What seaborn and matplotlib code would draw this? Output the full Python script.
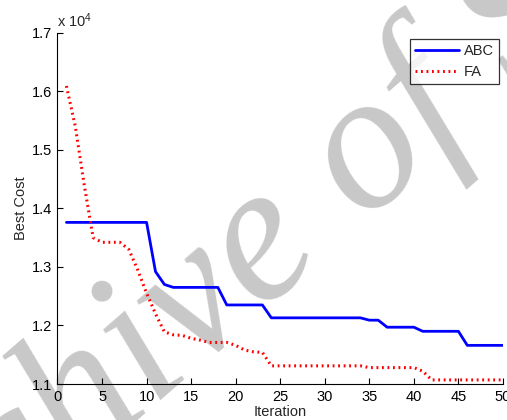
import matplotlib
matplotlib.use("Agg")
import matplotlib.pyplot as plt
import pandas as pd
import seaborn as sns
from matplotlib.ticker import FuncFormatter

# best cost per iteration
iterations = list(range(1, 51))
abc_cost = [13760, 13760, 13760, 13760, 13760, 13760, 13760, 13760, 13760, 13760,
            12920, 12700, 12650, 12650, 12650, 12650, 12650, 12650, 12350, 12350,
            12350, 12350, 12350, 12130, 12130, 12130, 12130, 12130, 12130, 12130,
            12130, 12130, 12130, 12130, 12090, 12090, 11970, 11970, 11970, 11970,
            11900, 11900, 11900, 11900, 11900, 11660, 11660, 11660, 11660, 11660]
fa_cost = [16090, 15400, 14400, 13500, 13420, 13420, 13420, 13300, 12950, 12550,
           12200, 11890, 11840, 11830, 11780, 11750, 11710, 11710, 11710, 11660,
           11580, 11550, 11540, 11310, 11310, 11310, 11310, 11310, 11310, 11310,
           11310, 11310, 11310, 11310, 11280, 11280, 11280, 11280, 11280, 11280,
           11220, 11070, 11070, 11070, 11070, 11070, 11070, 11070, 11070, 11070]

x_ticks = [0, 5, 10, 15, 20, 25, 30, 35, 40, 45, 50]
y_ticks = [11000, 12000, 13000, 14000, 15000, 16000, 17000]

df = pd.DataFrame({"Iteration": iterations, "ABC": abc_cost, "FA": fa_cost})

sns.set_style("ticks", {"xtick.direction": "in", "ytick.direction": "in"})
plt.rcParams['font.family'] = ['Liberation Sans', 'DejaVu Sans']
plt.rcParams['mathtext.default'] = 'regular'

fig = plt.figure(figsize=(5.07, 4.20), dpi=100)
ax = fig.add_axes([0.1134, 0.0857, 0.8786, 0.8365])
ax.patch.set_visible(False)

# watermark behind the plot
fig.text(0.552, 0.425, "Archive of SID", rotation=41, ha='center', va='center',
         fontsize=142, family='Liberation Serif', style='italic',
         color='#c8c8c8', zorder=-1)

sns.lineplot(data=df, x="Iteration", y="ABC", ax=ax, color='#0000ff',
             linewidth=2, label='ABC')
sns.lineplot(data=df, x="Iteration", y="FA", ax=ax, color='#ff0000',
             linewidth=2.2, linestyle=(0, (0.6, 1.2)), label='FA')

ax.set_xlim(0, 50)
ax.set_ylim(11000, 17000)
ax.set_xticks(x_ticks)
ax.set_yticks(y_ticks)
ax.yaxis.set_major_formatter(FuncFormatter(lambda v, p: "%.1f" % (v / 1e4)))
ax.tick_params(labelsize=10.5, length=4, width=0.8, colors='black', pad=4)
for s in ['top', 'right']:
    ax.spines[s].set_visible(False)
for s in ['left', 'bottom']:
    ax.spines[s].set_color('black')
    ax.spines[s].set_linewidth(0.8)

ax.set_xlabel("Iteration", fontsize=10.5, labelpad=1)
ax.set_ylabel("Best Cost", fontsize=10.5, labelpad=3)
ax.text(0.0, 1.008, "x 10$^{4}$", transform=ax.transAxes, ha='left', va='bottom',
        fontsize=10.5)

leg = ax.legend(loc='upper right', bbox_to_anchor=(498.7 / 507, 1 - 39.3 / 420),
                bbox_transform=fig.transFigure, fontsize=10.5, frameon=True,
                fancybox=False, handlelength=3.0, handletextpad=0.3,
                borderpad=0.35, labelspacing=0.45, borderaxespad=0)
leg.get_frame().set_edgecolor('black')
leg.get_frame().set_linewidth(0.9)

fig.savefig("out.png", dpi=100)
